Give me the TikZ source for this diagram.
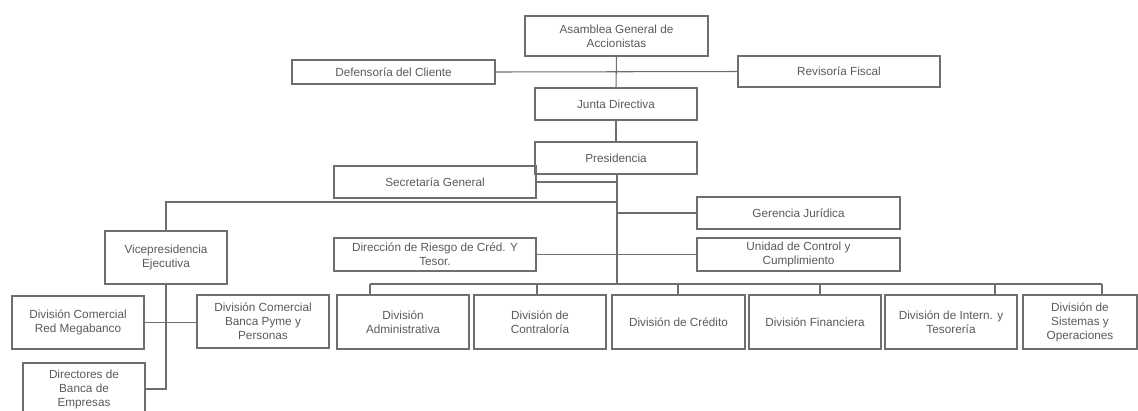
\documentclass[tikz,border=0pt]{standalone}
\usepackage{fontspec}
\setmainfont{Liberation Sans}
\definecolor{linegray}{HTML}{6E6E6E}
\definecolor{textgray}{HTML}{5A5A5A}
\tikzset{
	unit/.style={draw=linegray, text=textgray, align=center, inner sep=0pt, line width=0.6pt,
		font=\fontsize{6.7}{8}\selectfont},
	sz/.style 2 args={minimum width=#1*0.02cm, minimum height=#2*0.02cm},
	link/.style={draw=linegray, line width=0.6pt}
}
\begin{document}
\begin{tikzpicture}[x=0.02cm, y=-0.02cm]
	\useasboundingbox (0,0) rectangle (1138,410);

	% top of the chart
	\node[unit, sz={183}{40}] (asam) at (616.5,36) {Asamblea General de\\Accionistas};
	\node[unit, sz={203}{24}] (defe) at (393.5,72) {Defensoría del Cliente};
	\node[unit, sz={202}{31}] (revi) at (839,71.5) {Revisoría Fiscal};
	\node[unit, sz={162}{32}] (junta) at (616,104) {Junta Directiva};
	\node[unit, sz={162}{32}] (pres) at (616,158) {Presidencia};

	% staff units
	\node[unit, sz={202}{32}] (secr) at (435,182) {Secretaría General};
	\node[unit, sz={203}{32}] (gere) at (798.5,213) {Gerencia Jurídica};
	\node[unit, sz={202}{33}] (dire) at (435,254.5) {Dirección de Riesgo de Créd. Y\\Tesor.};
	\node[unit, sz={203}{33}] (unid) at (798.5,254.5) {Unidad de Control y\\Cumplimiento};

	% vicepresidencia
	\node[unit, sz={122}{53}] (vice) at (166,257.5) {Vicepresidencia\\Ejecutiva};
	\node[unit, sz={132}{53}] (red) at (78,322.5) {División Comercial\\Red Megabanco};
	\node[unit, sz={132}{53}] (pyme) at (263,321.5) {División Comercial\\Banca Pyme y\\Personas};
	\node[unit, sz={122}{53}] (dirbe) at (84,389.5) {Directores de\\Banca de\\Empresas};

	% divisions
	\node[unit, sz={132}{54}] (adm) at (403,322) {División\\Administrativa};
	\node[unit, sz={132}{54}] (cont) at (540,322) {División de\\Contraloría};
	\node[unit, sz={133}{54}] (cred) at (678.5,322) {División de Crédito};
	\node[unit, sz={132}{54}] (fina) at (815,322) {División Financiera};
	\node[unit, sz={132}{54}] (intr) at (951,322) {División de Intern. y\\Tesorería};
	\node[unit, sz={114}{54}] (sist) at (1080,322) {División de\\Sistemas y\\Operaciones};

	\coordinate (trunk) at (617,284);
	\coordinate (vtop) at (617,202);
	\coordinate (vbot) at (166,389);
	\coordinate (dA) at (370,284);
	\coordinate (dB) at (537,284);
	\coordinate (dC) at (678,284);
	\coordinate (dD) at (820,284);
	\coordinate (dE) at (995,284);
	\coordinate (dF) at (1102,284);

	% connectors
	\draw[link] (asam.south) -- (junta.north);
	\draw[link] (defe.east) -- (revi.west);
	\draw[link] (junta.south) -- (pres.north);
	\draw[link] (pres.south -| trunk) -- (trunk);
	\draw[link] (secr.east) -- (secr.east -| trunk);
	\draw[link] (vice.north) |- (vtop);
	\draw[link] (gere.west) -- (gere.west -| trunk);
	\draw[link] (unid.west) -- (unid.west -| trunk);
	\draw[link] (dire.east) -- (dire.east -| trunk);

	\draw[link] (dA) -- (dF);
	\draw[link] (dA) -- (dA |- adm.north);
	\draw[link] (dB) -- (dB |- cont.north);
	\draw[link] (dC) -- (dC |- cred.north);
	\draw[link] (dD) -- (dD |- fina.north);
	\draw[link] (dE) -- (dE |- intr.north);
	\draw[link] (dF) -- (dF |- sist.north);

	\draw[link] (vice.south) -- (vbot) -- (dirbe.east |- vbot);
	\draw[link] (red.east) -- (pyme.west |- red.east);
\end{tikzpicture}
\end{document}
